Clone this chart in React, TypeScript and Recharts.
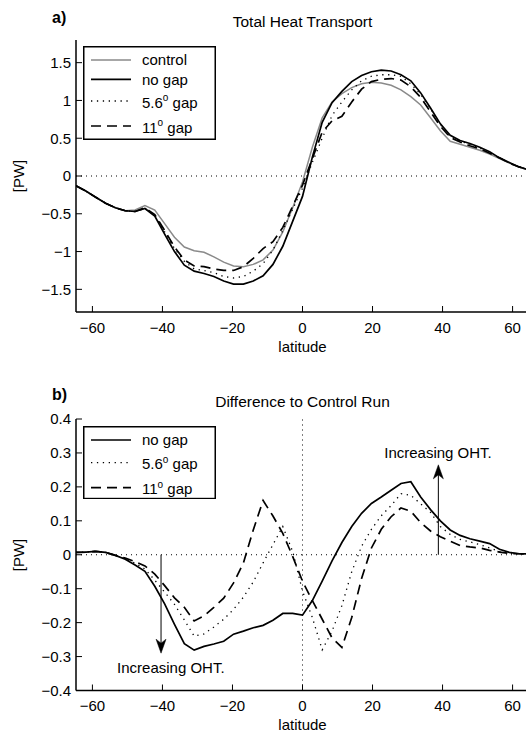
import React from 'react';
import { LineChart, Line, XAxis, YAxis, ReferenceLine, ReferenceDot, Legend } from 'recharts';

const latitude = [
  -64.6875, -61.875, -59.0625, -56.25, -53.4375, -50.625, -47.8125, -45, -42.1875, -39.375,
  -36.5625, -33.75, -30.9375, -28.125, -25.3125, -22.5, -19.6875, -16.875, -14.0625, -11.25,
  -8.4375, -5.625, -2.8125, 0, 2.8125, 5.625, 8.4375, 11.25, 14.0625, 16.875,
  19.6875, 22.5, 25.3125, 28.125, 30.9375, 33.75, 36.5625, 39.375, 42.1875, 45,
  47.8125, 50.625, 53.4375, 56.25, 59.0625, 61.875, 64.6875,
];

const controlTotal = [
  -0.13, -0.2, -0.28, -0.36, -0.42, -0.46, -0.45, -0.39, -0.45, -0.63,
  -0.81, -0.94, -0.99, -1.01, -1.07, -1.14, -1.19, -1.2, -1.17, -1.11,
  -0.98, -0.74, -0.42, -0.08, 0.38, 0.77, 0.98, 1.09, 1.17, 1.22,
  1.24, 1.23, 1.2, 1.14, 1.05, 0.94, 0.77, 0.6, 0.46, 0.42,
  0.38, 0.34, 0.29, 0.23, 0.17, 0.12, 0.08,
];
const noGapTotal = [
  -0.13, -0.2, -0.28, -0.36, -0.42, -0.46, -0.47, -0.43, -0.53, -0.77,
  -1.0, -1.18, -1.26, -1.29, -1.33, -1.39, -1.43, -1.43, -1.39, -1.32,
  -1.17, -0.93, -0.6, -0.27, 0.25, 0.71, 0.97, 1.12, 1.25, 1.33,
  1.38, 1.4, 1.39, 1.34, 1.26, 1.1, 0.9, 0.69, 0.54, 0.47,
  0.43, 0.38, 0.32, 0.24, 0.18, 0.12, 0.08,
];
const gap56Total = [
  -0.13, -0.2, -0.28, -0.36, -0.42, -0.46, -0.47, -0.43, -0.52, -0.74,
  -0.96, -1.13, -1.23, -1.25, -1.28, -1.33, -1.35, -1.33, -1.26, -1.16,
  -0.98, -0.72, -0.44, -0.16, 0.18, 0.5, 0.8, 0.98, 1.14, 1.26,
  1.32, 1.34, 1.34, 1.32, 1.22, 1.08, 0.89, 0.68, 0.52, 0.46,
  0.42, 0.37, 0.31, 0.24, 0.17, 0.12, 0.08,
];
const gap11Total = [
  -0.13, -0.2, -0.28, -0.36, -0.42, -0.46, -0.47, -0.42, -0.51, -0.72,
  -0.94, -1.11, -1.19, -1.2, -1.23, -1.25, -1.25, -1.2, -1.09, -0.96,
  -0.87, -0.68, -0.4, -0.12, 0.23, 0.58, 0.73, 0.79, 0.98, 1.15,
  1.25, 1.28, 1.29, 1.27, 1.18, 1.04, 0.85, 0.66, 0.51, 0.45,
  0.4, 0.36, 0.3, 0.24, 0.17, 0.12, 0.08,
];

const noGapDiff = [
  0.007, 0.008, 0.01, 0.007, -0.002, -0.013, -0.03, -0.049, -0.093, -0.145,
  -0.205, -0.262, -0.281, -0.27, -0.263, -0.255, -0.234, -0.225, -0.215, -0.208,
  -0.193, -0.173, -0.173, -0.178, -0.135, -0.078, -0.018, 0.036, 0.083, 0.122,
  0.151, 0.17, 0.19, 0.21, 0.215, 0.17, 0.133, 0.1, 0.073, 0.057,
  0.047, 0.04, 0.033, 0.016, 0.007, 0.003, 0.002,
];
const gap56Diff = [
  0.007, 0.008, 0.01, 0.007, -0.002, -0.012, -0.025, -0.042, -0.075, -0.11,
  -0.146, -0.192, -0.24, -0.233, -0.213, -0.19, -0.161, -0.125, -0.08, -0.024,
  0.03, 0.083, 0.01, -0.107, -0.185, -0.28, -0.225, -0.15, -0.05, 0.025,
  0.075, 0.115, 0.145, 0.18, 0.175, 0.15, 0.125, 0.083, 0.06, 0.045,
  0.038, 0.03, 0.02, 0.01, 0.005, 0.003, 0.002,
];
const gap11Diff = [
  0.007, 0.008, 0.01, 0.007, -0.002, -0.01, -0.02, -0.033, -0.057, -0.091,
  -0.127, -0.155, -0.195, -0.18, -0.155, -0.128, -0.083, -0.024, 0.073, 0.16,
  0.114, 0.063, -0.005, -0.078, -0.135, -0.19, -0.245, -0.273, -0.185, -0.07,
  0.02, 0.075, 0.112, 0.138, 0.128, 0.095, 0.07, 0.053, 0.04, 0.027,
  0.023, 0.02, 0.013, 0.008, 0.004, 0.003, 0.002,
];

const xTicks = [-60, -40, -20, 0, 20, 40, 60];
const yTicksTop = [-1.5, -1, -0.5, 0, 0.5, 1, 1.5];
const yTicksBottom = [-0.4, -0.3, -0.2, -0.1, 0, 0.1, 0.2, 0.3, 0.4];
const xDomain: [number, number] = [-64.6875, 64.6875];

const arrowLats = [-40.4, 38.8];
const arrowTips = [-0.29, 0.265];
const arrowText = 'Increasing OHT.';
const arrowTextPos = [
  { x: -37.6, y: -0.334 },
  { x: 38.7, y: 0.3 },
];

const topData = latitude.map((lat, i) => ({
  lat,
  control: controlTotal[i],
  noGap: noGapTotal[i],
  gap56: gap56Total[i],
  gap11: gap11Total[i],
}));
const bottomData = latitude.map((lat, i) => ({
  lat,
  noGap: noGapDiff[i],
  gap56: gap56Diff[i],
  gap11: gap11Diff[i],
}));

const FONT = '"Liberation Sans", Arial, Helvetica, sans-serif';
const DOT = '1.3 4.6';
const DASH = '10 6';

type Item = { key: string; label: string; sup?: string; rest?: string; color: string; width: number; dash?: string };

const topItems: Item[] = [
  { key: 'control', label: 'control', color: '#8a8a8a', width: 1.5 },
  { key: 'noGap', label: 'no gap', color: '#000', width: 1.7 },
  { key: 'gap56', label: '5.6', sup: 'o', rest: ' gap', color: '#000', width: 1.3, dash: DOT },
  { key: 'gap11', label: '11', sup: 'o', rest: ' gap', color: '#000', width: 1.7, dash: DASH },
];
const bottomItems: Item[] = topItems.slice(1);

function LegendBox({ items, rows, width, height }: { items: Item[]; rows: number[]; width: number; height: number }) {
  return (
    <svg width={width} height={height} style={{ display: 'block', fontFamily: FONT }}>
      <rect x={0.75} y={0.75} width={width - 1.5} height={height - 1.5} fill="#fff" stroke="#000" strokeWidth={1.5} />
      {items.map((it, i) => (
        <g key={it.key}>
          <line x1={8} x2={48} y1={rows[i]} y2={rows[i]} stroke={it.color} strokeWidth={it.width} strokeDasharray={it.dash} />
          <text x={59} y={rows[i] + (it.sup ? 6.5 : 5.3)} fontSize={15} fill="#000">
            {it.label}
            {it.sup ? (
              <>
                <tspan dy={-6.5} fontSize={10}>{it.sup}</tspan>
                <tspan dy={6.5} fontSize={15}>{it.rest}</tspan>
              </>
            ) : null}
          </text>
        </g>
      ))}
    </svg>
  );
}

const fmt = (v: number) => String(v).replace('-', '\u2212');
const blank = () => '';

const ArrowShape = (props: any) => {
  const { x1, y1, x2, y2 } = props;
  const dir = y2 > y1 ? 1 : -1;
  const L = 14;
  const W = 5;
  const head = `M${x2},${y2} L${x2 - W},${y2 - dir * L} L${x2},${y2 - dir * (L - 4)} L${x2 + W},${y2 - dir * L} Z`;
  return (
    <g>
      <line x1={x1} y1={y1} x2={x2} y2={y2 - dir * 6} stroke="#000" strokeWidth={1} />
      <path d={head} fill="#000" stroke="#000" strokeWidth={0.5} />
    </g>
  );
};

const axisLine = { stroke: '#000', strokeWidth: 1.5 };
const tickLine = { stroke: '#000', strokeWidth: 1 };
const tickStyle = { fill: '#000', fontSize: 15 };

function renderSeries(items: Item[]) {
  return items.map((it) => (
    <Line
      key={it.key}
      type="linear"
      dataKey={it.key}
      stroke={it.color}
      strokeWidth={it.width}
      strokeDasharray={it.dash}
      dot={false}
      activeDot={false}
      isAnimationActive={false}
    />
  ));
}

export default function App() {
  return (
    <div style={{ position: 'absolute', left: 0, top: 0, width: 526, height: 732, overflow: 'hidden', background: '#fff', fontFamily: FONT }}>
      <div style={{ position: 'absolute', left: 0, top: 0 }}>
        <LineChart width={532} height={366} data={topData} margin={{ top: 40, right: 3, bottom: 0, left: 0 }}>
          <XAxis
            dataKey="lat"
            type="number"
            domain={xDomain}
            ticks={xTicks}
            interval={0}
            allowDataOverflow
            height={54}
            tickSize={-6}
            tickMargin={16}
            axisLine={axisLine}
            tickLine={tickLine}
            tick={tickStyle}
            tickFormatter={fmt}
            label={{ value: 'latitude', position: 'insideBottom', offset: 14.5, fill: '#000', fontSize: 15 }}
          />
          <XAxis xAxisId="top" orientation="top" type="number" domain={xDomain} ticks={xTicks} interval={0} allowDataOverflow height={0} tickSize={-6} axisLine={axisLine} tickLine={tickLine} tickFormatter={blank} />
          <YAxis
            type="number"
            domain={[-1.8, 1.8]}
            ticks={yTicksTop}
            interval={0}
            allowDataOverflow
            width={76}
            tickSize={-6}
            tickMargin={11}
            axisLine={axisLine}
            tickLine={tickLine}
            tick={tickStyle}
            tickFormatter={fmt}
          />
          <YAxis yAxisId="right" orientation="right" type="number" domain={[-1.8, 1.8]} ticks={yTicksTop} interval={0} allowDataOverflow width={0} tickSize={-6} axisLine={axisLine} tickLine={tickLine} tickFormatter={blank} />
          <ReferenceLine y={0} stroke="#000" strokeWidth={1} strokeDasharray="1 4" />
          {renderSeries(topItems)}
          <Legend
            layout="vertical"
            align="center"
            verticalAlign="middle"
            wrapperStyle={{ left: 83.3, top: 46, width: 133, height: 94 }}
            content={() => <LegendBox items={topItems} rows={[14, 33.3, 55, 80]} width={133} height={94} />}
          />
        </LineChart>
      </div>
      <div style={{ position: 'absolute', left: 0, top: 366 }}>
        <LineChart width={532} height={366} data={bottomData} margin={{ top: 53, right: 3, bottom: 0, left: 0 }}>
          <XAxis
            dataKey="lat"
            type="number"
            domain={xDomain}
            ticks={xTicks}
            interval={0}
            allowDataOverflow
            height={41.5}
            tickSize={-6}
            tickMargin={16}
            axisLine={axisLine}
            tickLine={tickLine}
            tick={tickStyle}
            tickFormatter={fmt}
            label={{ value: 'latitude', position: 'insideBottom', offset: 2, fill: '#000', fontSize: 15 }}
          />
          <XAxis xAxisId="top" orientation="top" type="number" domain={xDomain} ticks={xTicks} interval={0} allowDataOverflow height={0} tickSize={-6} axisLine={axisLine} tickLine={tickLine} tickFormatter={blank} />
          <YAxis
            type="number"
            domain={[-0.4, 0.4]}
            ticks={yTicksBottom}
            interval={0}
            allowDataOverflow
            width={76}
            tickSize={-6}
            tickMargin={11}
            axisLine={axisLine}
            tickLine={tickLine}
            tick={tickStyle}
            tickFormatter={fmt}
          />
          <YAxis yAxisId="right" orientation="right" type="number" domain={[-0.4, 0.4]} ticks={yTicksBottom} interval={0} allowDataOverflow width={0} tickSize={-6} axisLine={axisLine} tickLine={tickLine} tickFormatter={blank} />
          <ReferenceLine y={0} stroke="#000" strokeWidth={1} strokeDasharray="1 4" />
          <ReferenceLine x={0} stroke="#000" strokeWidth={1} strokeDasharray="1 4" />
          {renderSeries(bottomItems)}
          {arrowLats.map((lat, i) => (
            <ReferenceLine
              key={'arrow' + i}
              segment={[{ x: lat, y: 0 }, { x: lat, y: arrowTips[i] }]}
              shape={ArrowShape}
            />
          ))}
          {arrowTextPos.map((p, i) => (
            <ReferenceDot
              key={'txt' + i}
              x={p.x}
              y={p.y}
              r={0}
              fill="none"
              stroke="none"
              label={{ value: arrowText, position: 'center', fill: '#000', fontSize: 15 }}
            />
          ))}
          <Legend
            layout="vertical"
            align="center"
            verticalAlign="middle"
            wrapperStyle={{ left: 83.3, top: 60, width: 133, height: 73.3 }}
            content={() => <LegendBox items={bottomItems} rows={[14, 36.7, 61.7]} width={133} height={73.3} />}
          />
        </LineChart>
      </div>
      <svg width={526} height={732} style={{ position: 'absolute', left: 0, top: 0, pointerEvents: 'none', fontFamily: FONT }}>
        <text x={52} y={22.5} fontSize={16} fontWeight="bold" fill="#000">a)</text>
        <text x={302.5} y={27} fontSize={15.5} textAnchor="middle" fill="#000">Total Heat Transport</text>
        <text x={23.9} y={176} fontSize={15} textAnchor="middle" fill="#000" transform="rotate(-90, 23.9, 176)">[PW]</text>
        <text x={52} y={399.5} fontSize={16} fontWeight="bold" fill="#000">b)</text>
        <text x={302.5} y={406.8} fontSize={15.5} textAnchor="middle" fill="#000">Difference to Control Run</text>
        <text x={23.7} y={555} fontSize={15} textAnchor="middle" fill="#000" transform="rotate(-90, 23.7, 555)">[PW]</text>
      </svg>
    </div>
  );
}
